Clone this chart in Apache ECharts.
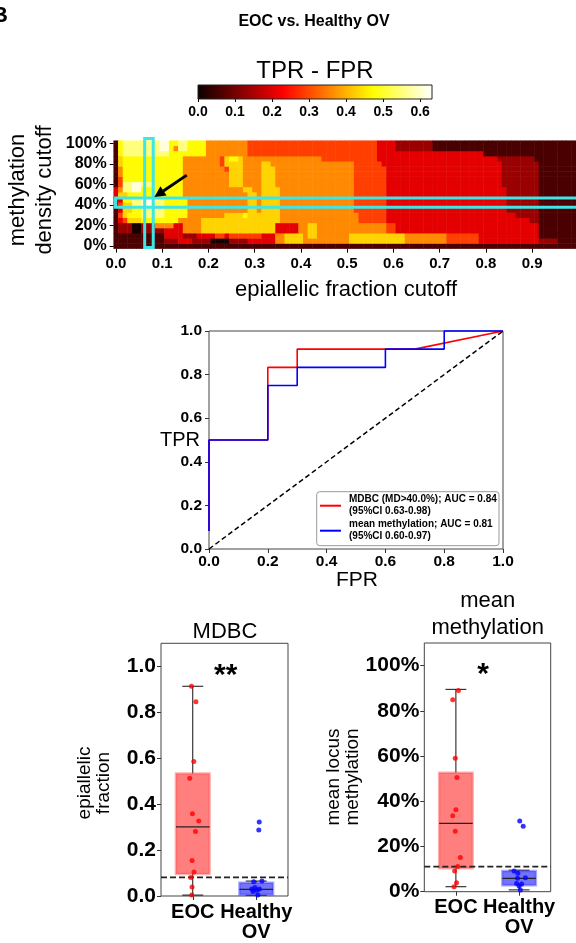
<!DOCTYPE html>
<html><head><meta charset="utf-8">
<script src="https://cdn.jsdelivr.net/npm/echarts@6/dist/echarts.min.js"></script>
<style>html,body{margin:0;padding:0;background:#fff}#c{width:576px;height:943px}</style>
</head><body><div id="c"></div>
<script>
// ================= DATA =================
// Heatmap: TPR-FPR for (epiallelic fraction cutoff 0.00..0.99) x (methylation density cutoff 0%..100% step 5%)
// Each row = run-length list of [last column index, level code]
const heatLevels = {K:0.01, D:0.06, M:0.135, R:0.205, O:0.29, N:0.36, A:0.43, Y:0.47, L:0.55, W:0.61};
const heatRow0   = [[99,'D']];
const heatRow5   = [[10,'D'],[13,'M'],[16,'R'],[20,'M'],[24,'K'],[28,'M'],[34,'R'],[36,'N'],[40,'A'],[50,'N'],[62,'A'],[71,'N'],[78,'O'],[91,'R'],[95,'M'],[99,'D']];
const heatRow10  = [[10,'D'],[14,'R'],[17,'M'],[21,'R'],[23,'O'],[24,'R'],[31,'O'],[34,'R'],[36,'N'],[40,'A'],[41,'N'],[43,'A'],[50,'N'],[62,'A'],[71,'N'],[78,'O'],[91,'R'],[99,'D']];
const heatRow15  = [[0,'D'],[3,'M'],[5,'K'],[10,'M'],[14,'R'],[18,'N'],[34,'A'],[39,'R'],[41,'N'],[43,'A'],[58,'N'],[60,'O'],[91,'R'],[99,'D']];
const heatRow20  = [[0,'D'],[3,'M'],[5,'K'],[8,'M'],[12,'N'],[14,'R'],[18,'N'],[34,'A'],[39,'R'],[41,'N'],[43,'A'],[58,'N'],[60,'O'],[91,'R'],[99,'D']];
const heatRow25  = [[0,'D'],[1,'R'],[2,'O'],[5,'A'],[13,'Y'],[18,'N'],[35,'A'],[52,'N'],[58,'O'],[89,'R'],[91,'M'],[99,'D']];
const heatRow30  = [[0,'D'],[1,'O'],[2,'A'],[5,'Y'],[10,'L'],[15,'Y'],[23,'N'],[27,'A'],[28,'Y'],[35,'A'],[52,'N'],[58,'O'],[86,'R'],[91,'M'],[99,'D']];
const heatRow35  = [[0,'D'],[1,'R'],[3,'A'],[5,'Y'],[10,'L'],[15,'Y'],[28,'N'],[30,'A'],[31,'N'],[35,'A'],[51,'N'],[58,'O'],[84,'R'],[91,'M'],[99,'D']];
const heatRow40  = [[0,'R'],[1,'O'],[3,'A'],[5,'L'],[8,'W'],[10,'L'],[15,'Y'],[28,'N'],[30,'A'],[31,'N'],[35,'A'],[51,'N'],[58,'O'],[84,'R'],[91,'M'],[99,'D']];
const heatRow45  = [[1,'R'],[3,'Y'],[5,'L'],[8,'W'],[10,'L'],[15,'Y'],[28,'N'],[30,'A'],[31,'N'],[35,'A'],[51,'N'],[58,'O'],[84,'R'],[91,'M'],[99,'D']];
const heatRow50  = [[0,'R'],[2,'A'],[14,'Y'],[28,'N'],[30,'A'],[31,'N'],[35,'A'],[51,'N'],[58,'O'],[84,'R'],[91,'M'],[99,'D']];
const heatRow55  = [[0,'R'],[1,'N'],[3,'L'],[5,'W'],[14,'Y'],[27,'N'],[29,'A'],[31,'N'],[35,'A'],[51,'N'],[58,'O'],[84,'R'],[91,'M'],[99,'D']];
const heatRow60  = [[0,'D'],[1,'O'],[3,'L'],[5,'W'],[8,'L'],[14,'Y'],[24,'N'],[27,'A'],[31,'N'],[34,'A'],[51,'N'],[58,'O'],[83,'R'],[91,'M'],[99,'D']];
const heatRow65  = [[0,'D'],[1,'O'],[14,'Y'],[24,'N'],[27,'A'],[31,'N'],[34,'A'],[51,'N'],[58,'O'],[83,'R'],[91,'M'],[99,'D']];
const heatRow70  = [[0,'D'],[1,'N'],[14,'Y'],[24,'N'],[27,'A'],[31,'N'],[34,'A'],[51,'N'],[58,'O'],[83,'R'],[91,'M'],[99,'D']];
const heatRow75  = [[0,'D'],[1,'N'],[14,'Y'],[23,'N'],[24,'O'],[27,'A'],[31,'N'],[34,'A'],[51,'N'],[58,'O'],[83,'R'],[91,'M'],[99,'D']];
const heatRow80  = [[0,'D'],[1,'A'],[14,'Y'],[22,'N'],[23,'O'],[27,'A'],[31,'N'],[33,'A'],[51,'N'],[57,'O'],[83,'R'],[91,'M'],[99,'D']];
const heatRow85  = [[0,'D'],[1,'A'],[14,'Y'],[22,'N'],[23,'O'],[24,'A'],[26,'Y'],[27,'A'],[44,'N'],[56,'O'],[82,'R'],[90,'M'],[99,'D']];
const heatRow90  = [[0,'D'],[1,'Y'],[11,'L'],[19,'Y'],[28,'N'],[56,'O'],[79,'R'],[99,'D']];
const heatRow95  = [[0,'D'],[1,'Y'],[9,'L'],[11,'W'],[12,'Y'],[13,'N'],[15,'L'],[19,'Y'],[28,'N'],[56,'O'],[60,'R'],[68,'M'],[99,'D']];
const heatRow100 = [[0,'D'],[1,'Y'],[9,'L'],[11,'W'],[13,'Y'],[15,'L'],[19,'Y'],[28,'N'],[56,'O'],[60,'R'],[68,'M'],[99,'D']];
const heatColorMax = 0.632;
const colorbarTicks = [0, 0.1, 0.2, 0.3, 0.4, 0.5, 0.6];
const heatXTickEvery = 10;            // label every 0.1
const heatYTickEvery = 4;             // label every 20%
// highlighted selection (x0, x1, y0, y1) and arrow (from x,y to x,y) in data units
const cyanBoxes = [[0.062, 0.0805, -1.5, 104.7], [-0.001, 1.05, 37.7, 46.7]];
const arrowData = [[0.153, 69, 0.083, 47.7]];

// ROC curves
const rocMdbc = [[0,0.083],[0,0.5],[0.2,0.5],[0.2,0.833],[0.3,0.833],[0.3,0.917],[0.7,0.917],[1,1]];
const rocMean = [[0,0.083],[0,0.5],[0.2,0.5],[0.2,0.75],[0.3,0.75],[0.3,0.833],[0.6,0.833],[0.6,0.917],[0.8,0.917],[0.8,1],[1,1]];
const rocChance = [[0,0],[1,1]];
const legendLines = [
  ['MDBC (MD>40.0%); AUC = 0.84', '(95%CI 0.63-0.98)'],
  ['mean methylation; AUC = 0.81', '(95%CI 0.60-0.97)']
];

// Box plots: [min, q1, median, q3, max]
const boxCategories = ['EOC', 'Healthy\nOV'];
const boxYTicks = [0, 0.2, 0.4, 0.6, 0.8, 1.0];
const mdbcEocBox = [0.004, 0.096, 0.301, 0.533, 0.913];
const mdbcHealthyBox = [0.003, 0.005, 0.029, 0.058, 0.065];
const mdbcEocPts = [0.913, 0.846, 0.586, 0.513, 0.358, 0.326, 0.281, 0.155, 0.104, 0.081, 0.039, 0.004];
const mdbcEocJit = [-0.02, 0.05, 0.016, -0.047, -0.005, 0.094, 0.043, -0.011, 0.02, -0.031, -0.011, -0.016];
const mdbcHealthyPts = [0.322, 0.287, 0.065, 0.062, 0.037, 0.030, 0.030, 0.025, 0.020, 0.004];
const mdbcHealthyJit = [0.047, 0.04, 0.09, -0.04, -0.02, -0.07, 0.05, 0.01, -0.05, 0.025];
const mdbcCutoff = 0.081;

const meanEocBox = [0.022, 0.104, 0.302, 0.526, 0.895];
const meanHealthyBox = [0.008, 0.028, 0.059, 0.092, 0.095];
const meanEocPts = [0.89, 0.849, 0.59, 0.505, 0.363, 0.336, 0.267, 0.151, 0.111, 0.092, 0.04, 0.022];
const meanEocJit = [0.04, -0.05, -0.01, 0.016, 0, -0.05, -0.01, 0.07, 0.03, -0.02, 0.01, -0.03];
const meanHealthyPts = [0.313, 0.289, 0.092, 0.082, 0.059, 0.062, 0.034, 0.036, 0.025, 0.008];
const meanHealthyJit = [0.01, 0.065, -0.08, -0.02, -0.025, 0.1, 0.04, -0.04, 0, 0.02];
const meanCutoff = 0.111;

// ================= BUILD =================
const AR = '"Liberation Sans", Arial, Helvetica, sans-serif';
function hot(t){
  t = Math.max(0, Math.min(1, t));
  const r = t < 0.365 ? 0.0416 + t/0.365*0.9584 : 1;
  const g = t < 0.365 ? 0 : Math.min(1, (t-0.365)/0.381);
  const b = t < 0.746 ? 0 : Math.min(1, (t-0.746)/0.254);
  return 'rgb(' + Math.round(r*255) + ',' + Math.round(g*255) + ',' + Math.round(b*255) + ')';
}
const hotStops = [];
for (let i = 0; i <= 64; i++) hotStops.push(hot(i/64));

const heatRows = [heatRow0,heatRow5,heatRow10,heatRow15,heatRow20,heatRow25,heatRow30,heatRow35,heatRow40,heatRow45,heatRow50,heatRow55,heatRow60,heatRow65,heatRow70,heatRow75,heatRow80,heatRow85,heatRow90,heatRow95,heatRow100];
const heatXCats = []; for (let i = 0; i < 100; i++) heatXCats.push((i/100).toFixed(2));
const heatYCats = []; for (let i = 0; i < heatRows.length; i++) heatYCats.push(String(i*5));
const heatData = [];
heatRows.forEach((row, yi) => {
  let c = 0;
  row.forEach(([last, code]) => { for (; c <= last; c++) heatData.push([c, yi, heatLevels[code]]); });
});

function pts(vals, jit, center){ return vals.map((v,i) => [center + jit[i], v]); }

function boxRender(params, api){
  const x = api.value(0), mn = api.value(1), q1 = api.value(2), md = api.value(3), q3 = api.value(4), mx = api.value(5);
  const hw = 0.265, cw = 0.165;
  const red = params.dataIndex === 0;
  const a = api.coord([x-hw, q3]), b = api.coord([x+hw, q1]);
  const c = api.coord([x, mx]), d = api.coord([x, q3]), e = api.coord([x, q1]), f = api.coord([x, mn]);
  const m1 = api.coord([x-hw, md]), m2 = api.coord([x+hw, md]);
  const t1 = api.coord([x-cw, mx]), t2 = api.coord([x+cw, mx]);
  const b1 = api.coord([x-cw, mn]), b2 = api.coord([x+cw, mn]);
  const ls = {stroke:'#111', lineWidth:1};
  return {type:'group', children:[
    {type:'line', shape:{x1:c[0],y1:c[1],x2:d[0],y2:d[1]}, style:ls},
    {type:'line', shape:{x1:e[0],y1:e[1],x2:f[0],y2:f[1]}, style:ls},
    {type:'line', shape:{x1:t1[0],y1:t1[1],x2:t2[0],y2:t2[1]}, style:ls},
    {type:'line', shape:{x1:b1[0],y1:b1[1],x2:b2[0],y2:b2[1]}, style:ls},
    {type:'rect', shape:{x:a[0], y:a[1], width:b[0]-a[0], height:b[1]-a[1]},
      style:{fill: red ? 'rgba(255,0,0,0.5)' : 'rgba(0,0,255,0.55)', stroke: red ? 'rgba(255,80,80,0.45)' : 'rgba(60,60,255,0.45)', lineWidth:2.5}},
    {type:'line', shape:{x1:m1[0],y1:m1[1],x2:m2[0],y2:m2[1]}, style:{stroke:'#222', lineWidth:1.2}}
  ]};
}

const boxTickLabel = {fontFamily: AR, fontWeight:'bold', fontSize:21, color:'#000', margin:5};
const catLabel = {fontFamily: AR, fontWeight:'bold', fontSize:20, color:'#000', margin:6, lineHeight:20, interval:0};

function txt(text, x, y, font, extra, opts){
  const st = Object.assign({text:text, font:font, fill:'#000', align:'center', verticalAlign:'middle',
    textAlign:'center', textVerticalAlign:'middle'}, extra || {});
  return Object.assign({type:'text', x:x, y:y, z:100, style:st}, opts || {});
}
const leftAl = {align:'left', textAlign:'left'};

const option = {
  animation:false,
  backgroundColor:'#fff',
  visualMap: {show:false, type:'continuous', seriesIndex:0, dimension:2, min:0, max:heatColorMax, inRange:{color:hotStops}},
  grid: [
    {left:113.7, top:140.7, width:467.8, height:107.9},          // 0 heatmap
    {left:198, top:85, width:234, height:14},                    // 1 colorbar
    {left:113.7, top:140.7, width:467.8, height:107.9},          // 2 overlay
    {left:209, top:331, width:294, height:218, show:true, borderColor:'#444', borderWidth:1}, // 3 ROC
    {left:161, top:643.3, width:127, height:252.7, show:true, borderColor:'#444', borderWidth:1}, // 4
    {left:424.3, top:643, width:126.4, height:248.7, show:true, borderColor:'#444', borderWidth:1} // 5
  ],
  xAxis: [
    {type:'category', gridIndex:0, data:heatXCats, boundaryGap:true,
      axisLine:{show:false, onZero:false}, axisTick:{show:true, interval:heatXTickEvery-1, alignWithLabel:true, length:4, lineStyle:{color:'#000'}},
      axisLabel:{interval:heatXTickEvery-1, formatter:v => Number(v).toFixed(1), fontFamily:AR, fontWeight:'bold', fontSize:15, color:'#000', margin:8},
      splitLine:{show:false}},
    {type:'value', gridIndex:1, min:0, max:heatColorMax, interval:0.1,
      axisLine:{show:false, onZero:false}, axisTick:{show:true, length:3, customValues:colorbarTicks, lineStyle:{color:'#000'}},
      axisLabel:{customValues:colorbarTicks, formatter:v => v.toFixed(1), fontFamily:AR, fontWeight:'bold', fontSize:14, color:'#000', margin:6},
      splitLine:{show:false}},
    {type:'value', gridIndex:2, min:-0.005, max:0.995, show:false},
    {type:'value', gridIndex:3, min:0, max:1, interval:0.2,
      axisLine:{show:false, onZero:false}, axisTick:{show:true, length:4, lineStyle:{color:'#333'}},
      axisLabel:{formatter:v => v.toFixed(1), fontFamily:AR, fontWeight:'bold', fontSize:15.5, color:'#000', margin:5},
      splitLine:{show:false}},
    {type:'category', gridIndex:4, data:boxCategories, boundaryGap:true,
      axisLine:{show:false, onZero:false}, axisTick:{show:true, alignWithLabel:true, length:4, lineStyle:{color:'#333'}},
      axisLabel:catLabel, splitLine:{show:false}},
    {type:'value', gridIndex:4, min:-0.5, max:1.5, show:false, axisLine:{onZero:false}},
    {type:'category', gridIndex:5, data:boxCategories, boundaryGap:true,
      axisLine:{show:false, onZero:false}, axisTick:{show:true, alignWithLabel:true, length:4, lineStyle:{color:'#333'}},
      axisLabel:catLabel, splitLine:{show:false}},
    {type:'value', gridIndex:5, min:-0.5, max:1.5, show:false, axisLine:{onZero:false}}
  ],
  yAxis: [
    {type:'category', gridIndex:0, data:heatYCats, boundaryGap:true,
      axisLine:{show:false, onZero:false}, axisTick:{show:true, interval:heatYTickEvery-1, alignWithLabel:true, length:4, lineStyle:{color:'#000'}},
      axisLabel:{interval:heatYTickEvery-1, formatter:v => v + '%', fontFamily:AR, fontWeight:'bold', fontSize:16, color:'#000', margin:7},
      splitLine:{show:false}},
    {type:'value', gridIndex:1, min:0, max:1, show:false},
    {type:'value', gridIndex:2, min:-2.5, max:102.5, show:false},
    {type:'value', gridIndex:3, min:0, max:1, interval:0.2,
      axisLine:{show:false, onZero:false}, axisTick:{show:true, length:4, lineStyle:{color:'#333'}},
      axisLabel:{formatter:v => v.toFixed(1), fontFamily:AR, fontWeight:'bold', fontSize:15.5, color:'#000', margin:7},
      splitLine:{show:false}},
    {type:'value', gridIndex:4, xAxisIndex:5, min:0, max:1.1, interval:0.2,
      axisLine:{show:false, onZero:false}, axisTick:{show:true, length:4, customValues:boxYTicks, lineStyle:{color:'#333'}},
      axisLabel:Object.assign({customValues:boxYTicks, formatter:v => v.toFixed(1)}, boxTickLabel),
      splitLine:{show:false}},
    {type:'value', gridIndex:5, min:0, max:1.1, interval:0.2,
      axisLine:{show:false, onZero:false}, axisTick:{show:true, length:4, customValues:boxYTicks, lineStyle:{color:'#333'}},
      axisLabel:Object.assign({customValues:boxYTicks, formatter:v => Math.round(v*100) + '%'}, boxTickLabel),
      splitLine:{show:false}}
  ],
  series: [
    {type:'heatmap', xAxisIndex:0, yAxisIndex:0, data:heatData, progressive:0, itemStyle:{borderWidth:0}, emphasis:{disabled:true}},
    {type:'custom', xAxisIndex:1, yAxisIndex:1, data:[[0, heatColorMax]], silent:true,
      renderItem:(p, api) => {
        const a = api.coord([0, 1]), b = api.coord([api.value(1), 0]);
        return {type:'rect', shape:{x:a[0], y:a[1], width:b[0]-a[0], height:b[1]-a[1]},
          style:{fill:new echarts.graphic.LinearGradient(0,0,1,0,[
            {offset:0,color:hot(0)},{offset:0.365,color:hot(0.365)},{offset:0.746,color:hot(0.746)},{offset:1,color:hot(1)}]),
            stroke:'#222', lineWidth:1}};
      }},
    {type:'custom', xAxisIndex:2, yAxisIndex:2, data:cyanBoxes, silent:true, z:5,
      renderItem:(p, api) => {
        const a = api.coord([api.value(0), api.value(3)]), b = api.coord([api.value(1), api.value(2)]);
        return {type:'rect', shape:{x:a[0], y:a[1], width:b[0]-a[0], height:b[1]-a[1]},
          style:{fill:'none', stroke:'#3ee6e6', lineWidth:3}};
      }},
    {type:'custom', xAxisIndex:2, yAxisIndex:2, data:arrowData, silent:true, z:6,
      renderItem:(p, api) => {
        const s = api.coord([api.value(0), api.value(1)]), t = api.coord([api.value(2), api.value(3)]);
        const dx = t[0]-s[0], dy = t[1]-s[1], L = Math.hypot(dx, dy), ux = dx/L, uy = dy/L;
        const hl = 11, hw = 5.5;
        const bx = t[0]-ux*hl, by = t[1]-uy*hl;
        return {type:'group', children:[
          {type:'line', shape:{x1:s[0],y1:s[1],x2:bx+ux*2,y2:by+uy*2}, style:{stroke:'#000', lineWidth:3}},
          {type:'polygon', shape:{points:[[t[0],t[1]],[bx-uy*hw,by+ux*hw],[bx+uy*hw,by-ux*hw]]}, style:{fill:'#000'}}
        ]};
      }},
    {type:'line', xAxisIndex:3, yAxisIndex:3, data:rocChance, symbol:'none', clip:false,
      lineStyle:{color:'#000', width:1.5, type:[5,3]}},
    {type:'line', xAxisIndex:3, yAxisIndex:3, data:rocMdbc, symbol:'none', clip:false,
      lineStyle:{color:'#ff0000', width:1.6}},
    {type:'line', xAxisIndex:3, yAxisIndex:3, data:rocMean, symbol:'none', clip:false,
      lineStyle:{color:'#0000ff', width:1.6}},
    // MDBC box panel
    {type:'custom', xAxisIndex:5, yAxisIndex:4, data:[[0].concat(mdbcEocBox), [1].concat(mdbcHealthyBox)], renderItem:boxRender, z:2},
    {type:'line', xAxisIndex:5, yAxisIndex:4, data:[[-0.5, mdbcCutoff],[1.5, mdbcCutoff]], symbol:'none', z:4,
      lineStyle:{color:'#222', width:1.6, type:[6,3]}},
    {type:'scatter', xAxisIndex:5, yAxisIndex:4, data:pts(mdbcEocPts, mdbcEocJit, 0), symbolSize:5, itemStyle:{color:'#ff0000'}, z:5},
    {type:'scatter', xAxisIndex:5, yAxisIndex:4, data:pts(mdbcHealthyPts, mdbcHealthyJit, 1), symbolSize:5, itemStyle:{color:'#0000ff'}, z:5},
    // mean methylation panel
    {type:'custom', xAxisIndex:7, yAxisIndex:5, data:[[0].concat(meanEocBox), [1].concat(meanHealthyBox)], renderItem:boxRender, z:2},
    {type:'line', xAxisIndex:7, yAxisIndex:5, data:[[-0.5, meanCutoff],[1.5, meanCutoff]], symbol:'none', z:4,
      lineStyle:{color:'#222', width:1.6, type:[6,3]}},
    {type:'scatter', xAxisIndex:7, yAxisIndex:5, data:pts(meanEocPts, meanEocJit, 0), symbolSize:5, itemStyle:{color:'#ff0000'}, z:5},
    {type:'scatter', xAxisIndex:7, yAxisIndex:5, data:pts(meanHealthyPts, meanHealthyJit, 1), symbolSize:5, itemStyle:{color:'#0000ff'}, z:5}
  ],
  graphic: [
    txt('B', 8, 16, 'bold 22px ' + AR, {align:'right', textAlign:'right'}),
    txt('EOC vs. Healthy OV', 314, 21.5, 'bold 16px ' + AR),
    txt('TPR - FPR', 315, 71, '24px ' + AR),
    txt('methylation\ndensity cutoff', 31, 190, '22px ' + AR, {lineHeight:27}, {rotation:Math.PI/2}),
    txt('epiallelic fraction cutoff', 346, 290, '22px ' + AR),
    txt('TPR', 180, 440, '20px ' + AR),
    txt('FPR', 357, 580, '21px ' + AR),
    {type:'rect', z:100, shape:{x:316.7, y:491.7, width:182.3, height:54, r:3}, style:{fill:'#fff', stroke:'#999', lineWidth:1}},
    {type:'line', z:101, shape:{x1:320, y1:505.7, x2:341, y2:505.7}, style:{stroke:'#ff0000', lineWidth:2}},
    {type:'line', z:101, shape:{x1:320, y1:530.7, x2:341, y2:530.7}, style:{stroke:'#0000ff', lineWidth:2}},
    txt(legendLines[0][0], 349, 499.5, 'bold 10px ' + AR, leftAl, {z:101}),
    txt(legendLines[0][1], 349, 511.5, 'bold 10px ' + AR, leftAl, {z:101}),
    txt(legendLines[1][0], 349, 524.5, 'bold 10px ' + AR, leftAl, {z:101}),
    txt(legendLines[1][1], 349, 536.5, 'bold 10px ' + AR, leftAl, {z:101}),
    txt('MDBC', 225, 632, '22px ' + AR),
    txt('mean\nmethylation', 487.7, 614, '22px ' + AR, {lineHeight:27}),
    txt('epiallelic\nfraction', 94, 783, '19px ' + AR, {lineHeight:19}, {rotation:Math.PI/2}),
    txt('mean locus\nmethylation', 343.5, 777, '19px ' + AR, {lineHeight:19}, {rotation:Math.PI/2}),
    txt('**', 225.7, 676, 'bold 30px ' + AR),
    txt('*', 483, 675, 'bold 30px ' + AR)
  ]
};
const chart = echarts.init(document.getElementById('c'));
chart.setOption(option);
</script>
</body></html>
